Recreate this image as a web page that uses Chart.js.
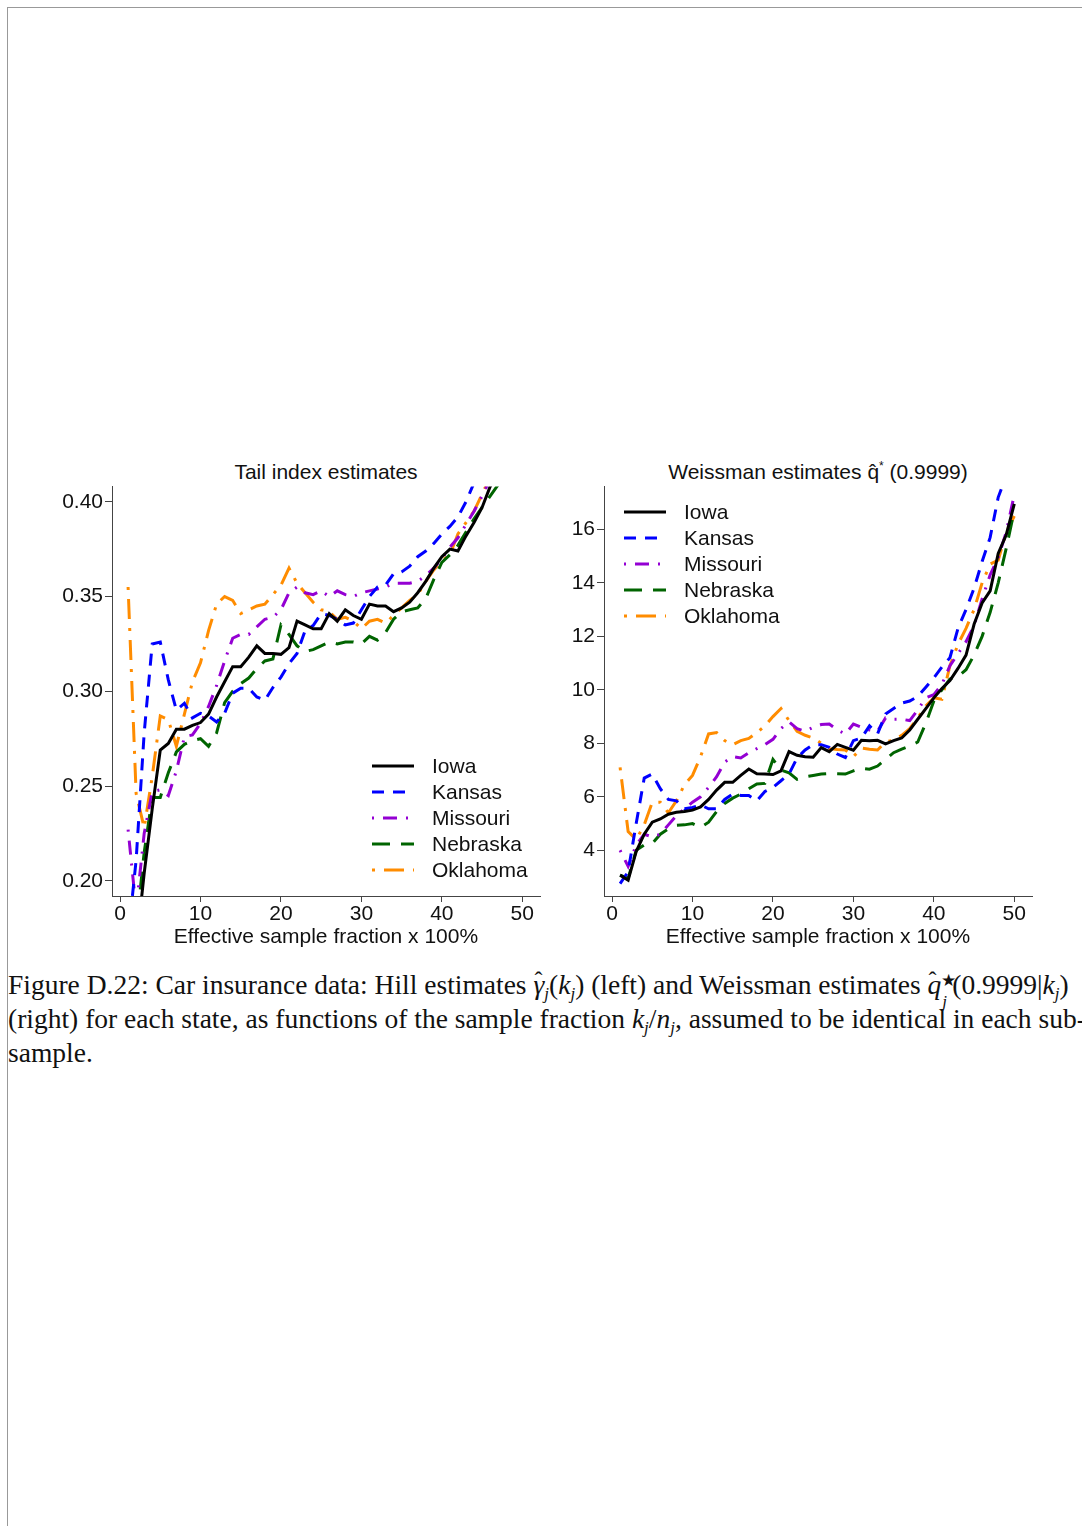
<!DOCTYPE html>
<html>
<head>
<meta charset="utf-8">
<script src="https://cdn.jsdelivr.net/npm/chart.js@4.4.1/dist/chart.umd.min.js"></script>
<style>
  html, body { margin: 0; padding: 0; background: #fff; }
  body { width: 1082px; height: 1526px; position: relative; overflow: hidden; }
  .frame { position: absolute; left: 7px; top: 7px; width: 1100px; height: 1600px;
           border-left: 1px solid #999; border-top: 1px solid #999; }
  .panel { position: absolute; }
  .ptitle { position: absolute; text-align: center; font: 21px "Liberation Sans", Arial, sans-serif;
            color: #111; line-height: 24px; white-space: nowrap; }
  .ptitle sup { font-size: 12px; line-height: 0; vertical-align: 9px; }
  .caption { position: absolute; left: 8px; top: 957px; padding-top: 12px; width: 1074px; overflow: hidden;
             font: 27.5px "Liberation Serif", "Times New Roman", serif; color: #111; }
  .caption div { white-space: nowrap; height: 34px; line-height: 32px; }
  .caption sub { font-size: 17px; vertical-align: -5px; line-height: 0; }
  .hat { position: relative; display: inline-block; font-style: italic; }
  .hat .h { position: absolute; left: 1px; top: -5px; font-style: normal; font-size: 24px; }
  .stk { display: inline-block; position: relative; width: 11px; height: 10px; }
  .stk .u { position: absolute; left: 0; top: -19px; font-size: 17px; }
  .stk .d { position: absolute; left: 1px; top: 2px; font-size: 17px; font-style: italic; }
</style>
</head>
<body>
<div class="frame"></div>

<div class="ptitle" style="left:112px; top:460px; width:428px;">Tail index estimates</div>
<div class="ptitle" style="left:604px; top:460px; width:428px;">Weissman estimates q&#770;<sup>*</sup> (0.9999)</div>

<canvas id="hillChart" class="panel" style="left:40px; top:472px;"></canvas>
<canvas id="weissChart" class="panel" style="left:550px; top:472px;"></canvas>

<div class="caption">
  <div>Figure D.22: Car insurance data: Hill estimates <span class="hat">&gamma;<span class="h">&#710;</span></span><sub><i>j</i></sub>(<i>k</i><sub><i>j</i></sub>) (left) and Weissman estimates <span class="hat">q<span class="h">&#710;</span></span><span class="stk"><span class="u">&#9733;</span><span class="d">j</span></span>(0.9999|<i>k</i><sub><i>j</i></sub>)</div>
  <div>(right) for each state, as functions of the sample fraction <i>k</i><sub><i>j</i></sub>/<i>n</i><sub><i>j</i></sub>, assumed to be identical in each sub-</div>
  <div>sample.</div>
</div>

<script>
// sample fraction (x 100%)
const xFrac = [1, 2, 3, 4, 5, 6, 7, 8, 9, 10, 11, 12, 13, 14, 15, 16, 17, 18, 19, 20,
  21, 22, 23, 24, 25, 26, 27, 28, 29, 30, 31, 32, 33, 34, 35, 36, 37, 38, 39, 40,
  41, 42, 43, 44, 45, 46, 47, 48, 49, 50];

const states = ["Iowa", "Kansas", "Missouri", "Nebraska", "Oklahoma"];

// Hill (tail index) estimates
const iowaHill = [0.150, 0.164, 0.204, 0.238, 0.269, 0.2725, 0.280, 0.280, 0.282, 0.2835,
  0.288, 0.297, 0.305, 0.313, 0.313, 0.318, 0.324, 0.320, 0.320, 0.3195,
  0.323, 0.337, 0.335, 0.333, 0.333, 0.341, 0.337, 0.343, 0.340, 0.338,
  0.346, 0.345, 0.345, 0.342, 0.344, 0.347, 0.352, 0.358, 0.365, 0.371,
  0.375, 0.374, 0.382, 0.389, 0.397, 0.408, 0.415, 0.425, 0.435, 0.445];
const kansasHill = [0.170, 0.211, 0.278, 0.325, 0.326, 0.306, 0.290, 0.2937, 0.286, 0.2884,
  0.287, 0.2838, 0.2884, 0.299, 0.3016, 0.3016, 0.297, 0.2953, 0.302, 0.3075,
  0.3146, 0.320, 0.332, 0.3347, 0.341, 0.340, 0.338, 0.335, 0.336, 0.343,
  0.350, 0.355, 0.356, 0.362, 0.363, 0.366, 0.371, 0.374, 0.378, 0.383,
  0.387, 0.392, 0.400, 0.410, 0.420, 0.430, 0.440, 0.450, 0.460, 0.470];
const missouriHill = [0.227, 0.185, 0.225, 0.247, 0.248, 0.245, 0.258, 0.276, 0.277, 0.283,
  0.292, 0.303, 0.316, 0.328, 0.330, 0.330, 0.334, 0.338, 0.339, 0.343,
  0.352, 0.355, 0.352, 0.351, 0.353, 0.350, 0.353, 0.351, 0.350, 0.352,
  0.353, 0.354, 0.355, 0.357, 0.357, 0.357, 0.358, 0.361, 0.365, 0.370,
  0.376, 0.381, 0.388, 0.395, 0.403, 0.412, 0.420, 0.430, 0.440, 0.450];
const nebraskaHill = [0.150, 0.175, 0.215, 0.244, 0.244, 0.257, 0.268, 0.272, 0.274, 0.275,
  0.271, 0.278, 0.294, 0.300, 0.304, 0.307, 0.312, 0.316, 0.317, 0.335,
  0.330, 0.324, 0.321, 0.322, 0.324, 0.326, 0.325, 0.326, 0.326, 0.325,
  0.329, 0.327, 0.331, 0.338, 0.342, 0.343, 0.344, 0.349, 0.359, 0.368,
  0.372, 0.377, 0.384, 0.391, 0.397, 0.403, 0.409, 0.420, 0.430, 0.440];
const oklahomaHill = [0.355, 0.246, 0.228, 0.255, 0.287, 0.285, 0.271, 0.288, 0.305, 0.315,
  0.332, 0.346, 0.350, 0.348, 0.341, 0.343, 0.345, 0.346, 0.351, 0.356,
  0.365, 0.357, 0.352, 0.347, 0.343, 0.342, 0.338, 0.339, 0.337, 0.333,
  0.337, 0.338, 0.336, 0.340, 0.344, 0.348, 0.351, 0.358, 0.364, 0.369,
  0.372, 0.383, 0.389, 0.395, 0.404, 0.413, 0.420, 0.430, 0.440, 0.450];

// Weissman extreme quantile estimates q*(0.9999)
const iowaQ = [3.07, 2.88, 3.95, 4.60, 5.05, 5.17, 5.35, 5.42, 5.45, 5.50,
  5.62, 5.90, 6.25, 6.54, 6.54, 6.80, 7.04, 6.86, 6.85, 6.83,
  6.97, 7.69, 7.55, 7.50, 7.48, 7.84, 7.69, 7.96, 7.85, 7.74,
  8.11, 8.10, 8.11, 7.98, 8.10, 8.20, 8.50, 8.90, 9.30, 9.70,
  10.05, 10.35, 10.80, 11.30, 12.45, 13.25, 13.70, 15.10, 15.80, 16.95];
const kansasQ = [2.75, 3.20, 5.00, 6.70, 6.85, 6.30, 5.90, 5.85, 5.55, 5.60,
  5.70, 5.55, 5.55, 5.90, 6.10, 6.05, 6.05, 5.85, 6.20, 6.35,
  6.60, 6.85, 7.45, 7.75, 7.95, 7.95, 7.85, 7.60, 7.47, 8.10,
  8.20, 8.65, 8.35, 9.10, 9.30, 9.50, 9.58, 9.75, 10.10, 10.45,
  10.85, 11.20, 12.30, 13.00, 13.80, 14.80, 15.70, 17.20, 18.00, 18.50];
const missouriQ = [4.00, 3.40, 4.20, 4.60, 4.50, 4.60, 4.95, 5.30, 5.55, 5.80,
  6.00, 6.35, 6.75, 7.30, 7.50, 7.45, 7.65, 7.80, 7.95, 8.15,
  8.55, 8.80, 8.55, 8.45, 8.60, 8.70, 8.72, 8.50, 8.35, 8.72,
  8.60, 8.50, 8.45, 8.95, 8.90, 8.90, 8.85, 9.25, 9.70, 9.82,
  10.20, 10.90, 11.35, 11.80, 12.40, 13.40, 14.30, 14.95, 15.90, 17.30];
const nebraskaQ = [3.07, 2.95, 4.00, 4.20, 4.25, 4.60, 4.80, 4.93, 4.95, 5.00,
  4.86, 5.05, 5.45, 5.75, 5.95, 6.10, 6.30, 6.48, 6.50, 7.40,
  7.00, 6.90, 6.65, 6.75, 6.80, 6.85, 6.87, 6.86, 6.85, 6.97,
  7.07, 7.03, 7.15, 7.40, 7.65, 7.78, 7.90, 8.05, 8.75, 9.58,
  10.00, 10.40, 10.50, 10.75, 11.30, 12.00, 12.90, 14.00, 15.30, 16.70];
const oklahomaQ = [7.10, 4.70, 4.40, 4.95, 5.80, 5.80, 5.40, 5.85, 6.45, 6.80,
  7.50, 8.35, 8.40, 8.10, 7.95, 8.10, 8.18, 8.40, 8.65, 9.00,
  9.30, 8.85, 8.45, 8.30, 8.20, 8.00, 7.80, 7.77, 7.75, 7.50,
  7.82, 7.78, 7.75, 8.05, 8.12, 8.30, 8.55, 8.95, 9.40, 9.70,
  9.65, 10.90, 11.70, 12.30, 13.00, 14.00, 14.70, 14.85, 15.90, 16.50];

// tick labels
const xTicks = [0, 10, 20, 30, 40, 50];
const hillTicks = [0.20, 0.25, 0.30, 0.35, 0.40];
const weissTicks = [4, 6, 8, 10, 12, 14, 16];

const lineStyles = [
  { color: "#000000", dash: [] },
  { color: "#0000ff", dash: [12, 9] },
  { color: "#9400d3", dash: [2, 9, 14, 9] },
  { color: "#006400", dash: [18, 11] },
  { color: "#ff8c00", dash: [3, 9, 20, 9] }
];

const FONT = "'Liberation Sans', Arial, Helvetica, sans-serif";
const AXIS = "#444";

function toPoints(arr) {
  return xFrac.map((x, i) => ({ x: x, y: arr[i] }));
}

function makeDatasets(seriesList) {
  return seriesList.map((arr, i) => ({
    label: states[i],
    data: toPoints(arr),
    borderColor: lineStyles[i].color,
    borderDash: lineStyles[i].dash,
    borderWidth: 3,
    pointRadius: 0,
    tension: 0,
    fill: false
  }));
}

// legend drawn inside the plot
const insideLegend = {
  id: "insideLegend",
  afterDraw(chart, args, opts) {
    const ctx = chart.ctx;
    ctx.save();
    ctx.font = "21px " + FONT;
    ctx.textBaseline = "middle";
    ctx.textAlign = "left";
    chart.data.datasets.forEach((ds, i) => {
      const y = opts.y + i * 26;
      ctx.strokeStyle = ds.borderColor;
      ctx.lineWidth = 3;
      ctx.setLineDash(ds.borderDash || []);
      ctx.beginPath();
      ctx.moveTo(opts.x, y);
      ctx.lineTo(opts.x + 42, y);
      ctx.stroke();
      ctx.setLineDash([]);
      ctx.fillStyle = "#111";
      ctx.fillText(ds.label, opts.x + 60, y + 1);
    });
    ctx.restore();
  }
};

function buildChart(id, width, yWidth, seriesList, yMin, yMax, yTickList, fmt, legendPos) {
  const el = document.getElementById(id);
  el.width = width;
  el.height = 478;
  el.style.width = width + "px";
  el.style.height = "478px";

  return new Chart(el, {
    type: "line",
    data: { datasets: makeDatasets(seriesList) },
    plugins: [insideLegend],
    options: {
      responsive: false,
      animation: false,
      layout: { padding: { top: 0, right: 5, left: 0, bottom: 0 } },
      plugins: {
        legend: { display: false },
        tooltip: { enabled: false },
        insideLegend: legendPos
      },
      scales: {
        x: {
          type: "linear",
          min: -1,
          max: 52.2,
          afterBuildTicks: s => { s.ticks = xTicks.map(v => ({ value: v })); },
          afterFit: s => { s.height = 54; },
          grid: { display: true, drawOnChartArea: false, drawTicks: true, tickLength: 6, color: AXIS },
          border: { display: true, color: AXIS, width: 1 },
          ticks: { color: "#111", font: { family: FONT, size: 21 }, padding: 0, maxRotation: 0 },
          title: {
            display: true,
            text: "Effective sample fraction x 100%",
            color: "#111",
            font: { family: FONT, size: 21 },
            padding: { top: 0, bottom: 0 }
          }
        },
        y: {
          type: "linear",
          min: yMin,
          max: yMax,
          afterBuildTicks: s => { s.ticks = yTickList.map(v => ({ value: v })); },
          afterFit: s => { s.width = yWidth; },
          grid: { display: true, drawOnChartArea: false, drawTicks: true, tickLength: 7, color: AXIS },
          border: { display: true, color: AXIS, width: 1 },
          ticks: { color: "#111", font: { family: FONT, size: 21 }, padding: 2, callback: fmt }
        }
      }
    }
  });
}

document.addEventListener("DOMContentLoaded", () => {
  const hill = buildChart("hillChart", 505, 72,
    [iowaHill, kansasHill, missouriHill, nebraskaHill, oklahomaHill],
    0.192, 0.408, hillTicks, v => Number(v).toFixed(2), { x: 332, y: 294 });

  const weiss = buildChart("weissChart", 487, 54,
    [iowaQ, kansasQ, missouriQ, nebraskaQ, oklahomaQ],
    2.29, 17.6, weissTicks, v => String(v), { x: 74, y: 40 });
});
</script>
</body>
</html>
